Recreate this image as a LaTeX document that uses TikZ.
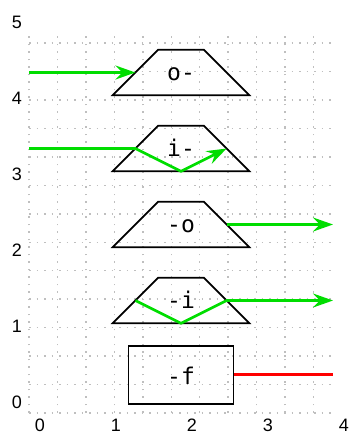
\documentclass[tikz,border=0pt]{standalone}
\usepackage{fontspec}
\setmainfont{Liberation Sans}
\newfontfamily\monofont{DejaVu Sans Mono}
\usetikzlibrary{arrows.meta}
\definecolor{sigreen}{RGB}{0,221,0}
\definecolor{sired}{RGB}{255,0,0}
\begin{document}
\begin{tikzpicture}[x=76pt,y=76pt,
  gridline/.style={gray!50, line width=1.5pt, dash pattern=on 1.5pt off 6pt},
  shapeline/.style={black, line width=1.7pt, line join=miter},
  sig/.style={sigreen, line width=2.7pt},
  bad/.style={sired, line width=3pt},
  tip/.style={-{Stealth[length=20pt,width=14pt,inset=7pt]}},
  lbl/.style={font=\fontsize{18}{18}\selectfont, inner sep=0pt},
  mono/.style={font=\monofont\fontsize{23}{23}\selectfont, inner sep=0pt, anchor=base}]
\useasboundingbox (-29pt,-23pt) rectangle (322pt,413pt);
% grid
\draw[gridline] (0,0) grid (4,5);
% axis labels
\foreach \i in {0,...,4}
  \node[lbl] (x\i) at ([xshift=11pt,yshift=-12pt]\i,0) {\i};
\foreach \j in {0,...,5}
  \node[lbl] (y\j) at ([xshift=-12pt,yshift=11pt]0,\j) {\j};
% trapezoids
\foreach \k/\n in {4/A,3/B,2/C,1/D}{
  \draw[shapeline] (1.1,\k+0.18) -- (2.9,\k+0.18) -- (2.3,\k+0.78) -- (1.7,\k+0.78) -- cycle;
  \coordinate (\n-l) at (1.4,\k+0.48);
  \coordinate (\n-r) at (2.6,\k+0.48);
  \coordinate (\n-b) at (2,\k+0.18);
  \coordinate (\n-in) at (0,\k+0.48);
  \coordinate (\n-out) at (4,\k+0.48);
}
\node[mono] (A) at (2,4.38) {o-};
\node[mono] (B) at (2,3.37) {i-};
\node[mono] (C) at (2,2.38) {-o};
\node[mono] (D) at (2,1.37) {-i};
% rectangle
\node[shapeline, draw, minimum width=1.38*76pt, minimum height=0.76*76pt, inner sep=0pt] (E) at (2,0.5) {};
\node[mono] (Etext) at (2,0.38) {-f};
\coordinate (E-out) at (4,0.5);
% signals
\draw[sig,tip] (A-in) -- (A-l);
\draw[sig,tip,line join=round] (B-in) -- (B-l) -- (B-b) -- (B-r);
\draw[sig,tip] (C-r) -- (C-out);
\draw[sig,tip,line join=round] (D-l) -- (D-b) -- (D-r) -- (D-out);
\draw[bad] (E.east) -- (E-out);
\end{tikzpicture}
\end{document}
